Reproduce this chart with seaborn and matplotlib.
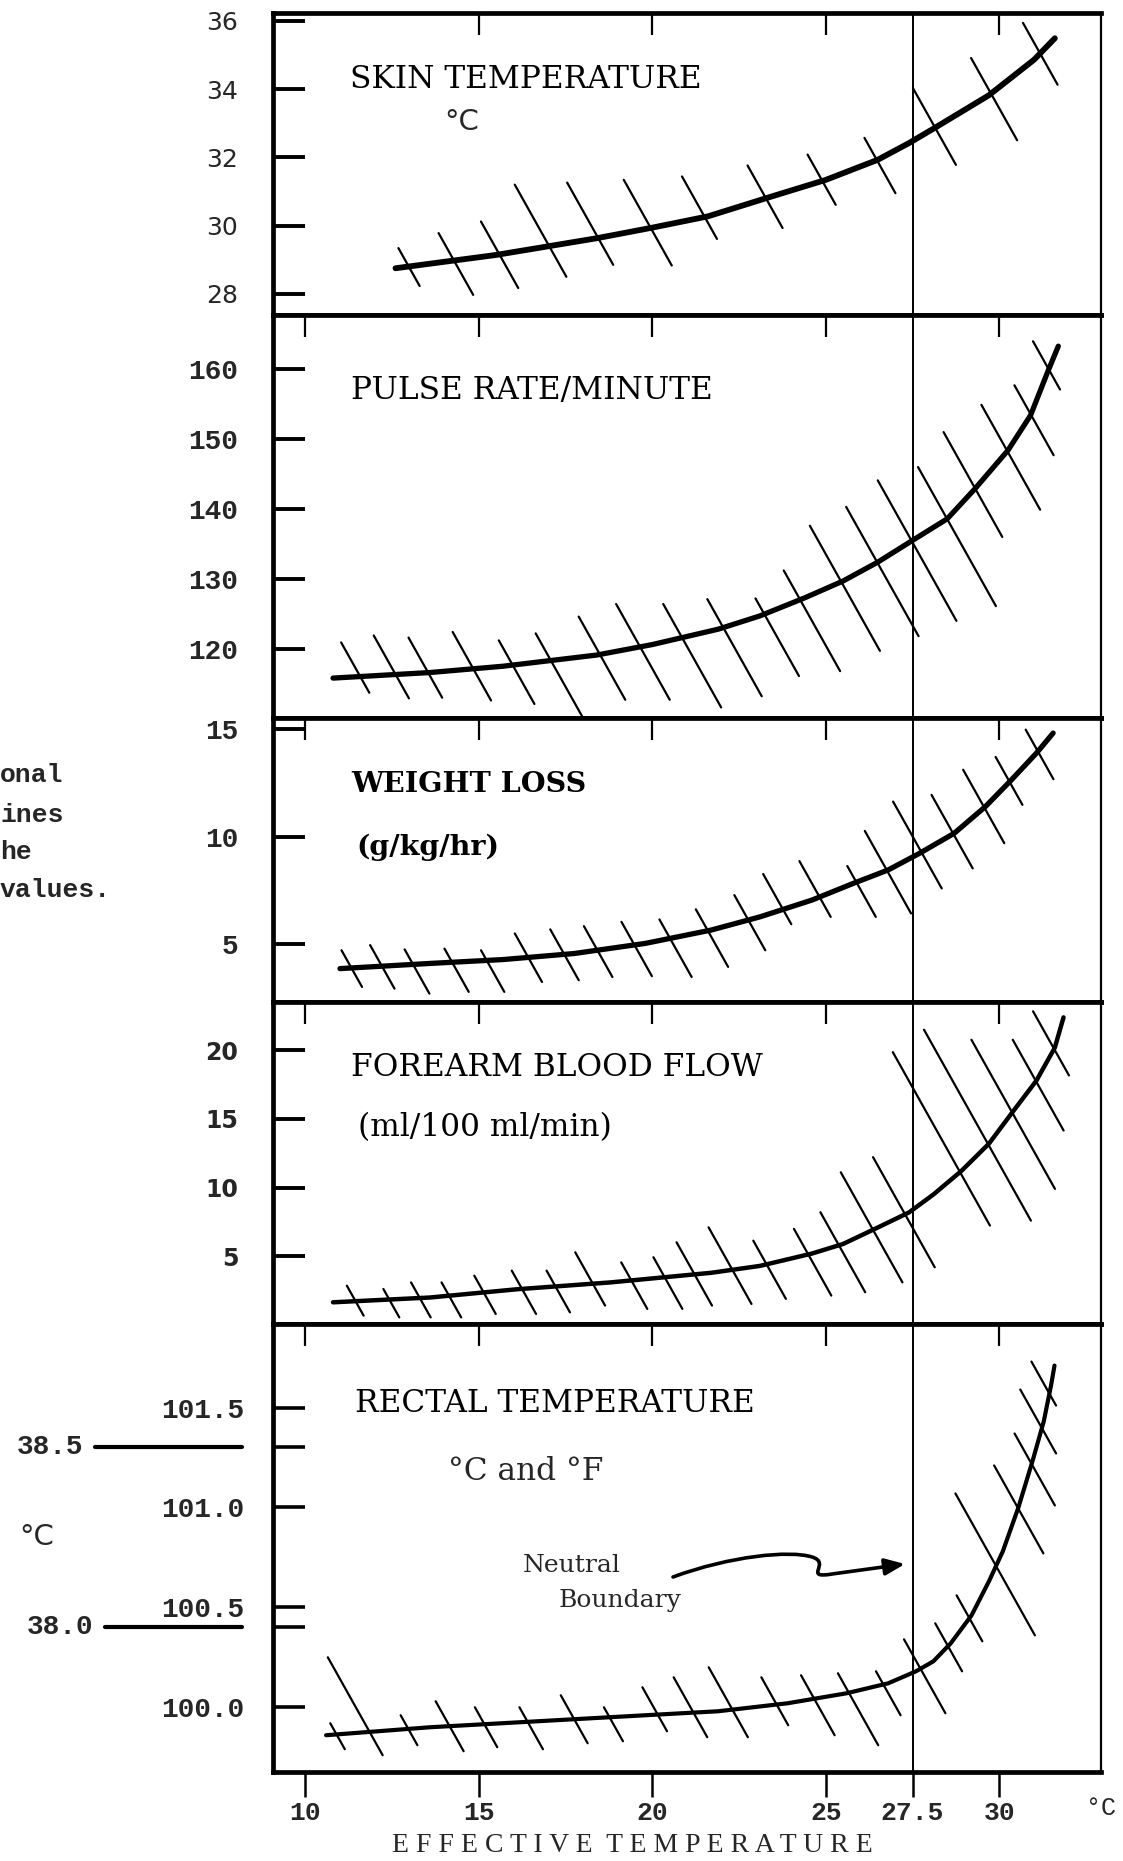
import numpy as np
import pandas as pd
import matplotlib
matplotlib.use("Agg")
import matplotlib.pyplot as plt
import matplotlib.transforms as mtransforms
from matplotlib.path import Path
from matplotlib.patches import FancyArrowPatch
import seaborn as sns

W, H = 1123, 1861

# ---------------- data ----------------
et_limits = (9.07, 32.93)
et_ticks = [10, 15, 20, 25, 27.5, 30]
et_tick_labels = ["10", "15", "20", "25", "27.5", "30"]
top_ticks = [10, 15, 20, 25, 30]
neutral_boundary = 27.5

# Skin temperature (deg C)
skin_et = [12.6, 15.5, 18.4, 20.0, 21.6, 23.3, 25.0, 26.5, 27.4, 28.2, 29.7, 31.0, 31.6]
skin_val = [28.75, 29.14, 29.63, 29.94, 30.27, 30.81, 31.34, 31.93, 32.42, 32.9, 33.82, 34.86, 35.49]
skin_rng_et = [12.99, 14.34, 15.6, 16.78, 18.21, 19.87, 21.36, 23.25, 24.88, 26.56, 28.13, 29.85, 31.18]
skin_rng_lo = [28.23, 27.97, 28.17, 28.5, 28.85, 28.83, 29.61, 29.93, 30.61, 30.95, 31.78, 32.5, 34.13]
skin_rng_hi = [29.34, 29.78, 30.12, 31.2, 31.26, 31.34, 31.44, 31.76, 32.08, 32.57, 34.03, 34.91, 35.94]
skin_ticks = [28, 30, 32, 34, 36]

# Pulse rate per minute
pulse_et = [10.8, 13.6, 15.7, 18.4, 20.0, 21.9, 23.1, 24.4, 25.5, 26.5, 27.4, 28.5, 29.3, 30.25, 30.9, 31.4, 31.7]
pulse_val = [115.8, 116.6, 117.5, 119.1, 120.6, 122.8, 124.7, 127.3, 129.7, 132.4, 135.2, 138.6, 142.9, 148.4, 153.4, 159.7, 163.3]
pulse_rng_et = [11.44, 12.48, 13.46, 14.8, 16.09, 17.31, 18.55, 19.73, 21.15, 22.37, 23.6, 24.6, 25.55, 26.63, 27.63, 28.78, 29.24, 30.33, 31.0, 31.36]
pulse_rng_lo = [113.7, 112.9, 113.0, 112.6, 112.1, 110.3, 112.7, 112.7, 111.6, 113.2, 116.1, 116.8, 119.7, 121.8, 124.0, 126.1, 136.0, 139.9, 147.7, 157.1]
pulse_rng_hi = [120.9, 121.9, 121.6, 122.4, 121.2, 122.2, 124.6, 126.4, 126.4, 127.1, 127.2, 131.2, 137.6, 140.3, 144.1, 146.0, 151.0, 154.9, 157.7, 164.0]
pulse_ticks = [120, 130, 140, 150, 160]

# Weight loss (g/kg/hr)
weight_et = [11.0, 13.6, 15.7, 17.75, 19.8, 21.7, 23.1, 24.6, 25.8, 26.8, 27.7, 28.7, 29.6, 30.35, 31.07, 31.55]
weight_val = [3.88, 4.12, 4.30, 4.58, 5.05, 5.67, 6.28, 7.06, 7.84, 8.46, 9.23, 10.16, 11.4, 12.64, 13.88, 14.81]
weight_rng_et = [11.34, 12.22, 13.22, 14.36, 15.4, 16.43, 17.47, 18.44, 19.55, 20.67, 21.72, 22.81, 23.6, 24.69, 26.03, 26.79, 27.64, 28.64, 29.55, 30.28, 31.16]
weight_rng_lo = [3.03, 2.95, 2.72, 2.80, 2.80, 3.26, 3.34, 3.49, 3.53, 3.49, 3.96, 4.73, 5.94, 6.28, 6.28, 6.44, 7.6, 8.53, 9.7, 11.48, 12.67]
weight_rng_hi = [4.73, 4.97, 4.77, 4.81, 4.73, 5.51, 5.70, 5.85, 6.05, 6.16, 6.63, 7.29, 8.27, 8.87, 8.64, 10.27, 11.63, 11.94, 13.11, 13.7, 14.97]
weight_ticks = [5, 10, 15]

# Forearm blood flow (ml/100 ml/min)
flow_et = [10.8, 13.6, 16.1, 18.8, 21.7, 23.1, 24.6, 25.5, 26.5, 27.4, 28.1, 28.9, 29.7, 30.35, 31.07, 31.6, 31.85]
flow_val = [1.65, 2.0, 2.6, 3.1, 3.8, 4.3, 5.2, 5.9, 7.1, 8.2, 9.5, 11.2, 13.2, 15.4, 17.8, 20.2, 22.4]
flow_rng_et = [11.44, 12.48, 13.33, 14.21, 15.18, 16.3, 17.29, 18.21, 19.48, 20.45, 21.21, 22.24, 23.38, 24.62, 25.49, 26.32, 27.25, 28.33, 29.37, 30.4, 31.12, 31.49]
flow_rng_lo = [0.68, 0.55, 0.55, 0.55, 0.8, 0.8, 0.92, 1.41, 1.17, 1.17, 1.41, 1.53, 1.9, 2.14, 2.38, 3.1, 4.2, 7.24, 7.6, 9.91, 14.16, 18.17]
flow_rng_hi = [2.86, 2.62, 3.1, 3.1, 3.59, 3.96, 3.96, 5.29, 4.56, 4.93, 6.02, 7.11, 6.14, 7.0, 8.21, 11.12, 12.22, 19.87, 21.5, 20.77, 20.77, 22.84]
flow_ticks = [5, 10, 15, 20]

# Rectal temperature (deg F, with deg C marks)
rectal_et = [10.6, 13.6, 16.7, 19.8, 21.9, 23.9, 25.6, 26.8, 27.6, 28.1, 28.6, 29.2, 29.7, 30.1, 30.55, 30.97, 31.28, 31.49, 31.59]
rectal_val = [99.86, 99.90, 99.93, 99.96, 99.98, 100.02, 100.07, 100.12, 100.18, 100.23, 100.32, 100.46, 100.63, 100.78, 101.0, 101.24, 101.43, 101.61, 101.71]
rectal_rng_et = [10.93, 11.44, 12.99, 14.16, 15.21, 16.51, 17.75, 18.88, 20.07, 21.1, 22.19, 23.53, 24.77, 25.93, 26.8, 27.85, 28.54, 29.14, 29.88, 30.56, 31.02, 31.12, 31.28]
rectal_rng_lo = [99.79, 99.76, 99.81, 99.78, 99.80, 99.79, 99.82, 99.83, 99.88, 99.85, 99.85, 99.91, 99.86, 99.81, 99.96, 99.97, 100.18, 100.33, 100.36, 100.77, 101.01, 101.27, 101.51]
rectal_rng_hi = [99.92, 100.25, 99.96, 100.03, 100.00, 100.00, 100.06, 100.00, 100.10, 100.15, 100.20, 100.15, 100.16, 100.17, 100.18, 100.34, 100.42, 100.56, 101.07, 101.21, 101.37, 101.59, 101.73]
rectal_ticks_f = [100.0, 100.5, 101.0, 101.5]
rectal_marks_c = [38.0, 38.5]

# ---------------- layout ----------------
panel_edges = [13, 315, 718, 1002, 1324, 1772]   # figure pixels from top
left_px, right_px = 273, 1101
SLANT = 0.56   # horizontal pixels per vertical pixel of each range stroke

panels = [
    dict(et=skin_et, val=skin_val, r_et=skin_rng_et, r_lo=skin_rng_lo, r_hi=skin_rng_hi,
         ylim=(27.38, 36.23), ticks=skin_ticks, lw=4.2, top=top_ticks[1:],
         tfont=("DejaVu Sans", "normal", 18)),
    dict(et=pulse_et, val=pulse_val, r_et=pulse_rng_et, r_lo=pulse_rng_lo, r_hi=pulse_rng_hi,
         ylim=(110.09, 167.76), ticks=pulse_ticks, lw=3.8, top=top_ticks,
         tfont=("Liberation Mono", "bold", 20)),
    dict(et=weight_et, val=weight_val, r_et=weight_rng_et, r_lo=weight_rng_lo, r_hi=weight_rng_hi,
         ylim=(2.33, 15.51), ticks=weight_ticks, lw=3.8, top=top_ticks,
         tfont=("Liberation Mono", "bold", 20)),
    dict(et=flow_et, val=flow_val, r_et=flow_rng_et, r_lo=flow_rng_lo, r_hi=flow_rng_hi,
         ylim=(0.07, 23.52), ticks=flow_ticks, lw=3.2, top=top_ticks,
         tfont=("DejaVu Sans", "bold", 17)),
    dict(et=rectal_et, val=rectal_val, r_et=rectal_rng_et, r_lo=rectal_rng_lo, r_hi=rectal_rng_hi,
         ylim=(99.676, 101.918), ticks=None, lw=3.0, top=top_ticks,
         tfont=("Liberation Mono", "bold", 20)),
]

sns.set_theme(style="white")
plt.rcParams["font.family"] = ["DejaVu Serif", "DejaVu Sans"]
plt.rcParams["axes.edgecolor"] = "black"
plt.rcParams["axes.linewidth"] = 3.0

fig = plt.figure(figsize=(W / 100, H / 100), dpi=100)
fig.patch.set_facecolor("white")


def fx(px):
    return px / W


def fy(py):
    return 1 - py / H


def range_strokes(ax, x_mid, lo, hi):
    """Slanted strokes spanning lo..hi, upper end to the left."""
    (x0, y0), (x1, y1) = ax.transData.transform([(0, 0), (1, 1)])
    k = SLANT * (y1 - y0) / (x1 - x0)
    rows = []
    for i, (xm, l, h) in enumerate(zip(x_mid, lo, hi)):
        half = k * (h - l) / 2
        rows.append((i, xm - half, h))
        rows.append((i, xm + half, l))
    return pd.DataFrame(rows, columns=["stroke", "et", "value"])


axes = []
for i, p in enumerate(panels):
    top, bot = panel_edges[i], panel_edges[i + 1]
    ax = fig.add_axes([fx(left_px), fy(bot), fx(right_px - left_px), (bot - top) / H])
    ax.set_facecolor("white")
    sns.lineplot(x=p["et"], y=p["val"], ax=ax, color="black", lw=p["lw"],
                 solid_capstyle="round", solid_joinstyle="round", estimator=None, sort=False)
    ax.set_xlim(*et_limits)
    ax.set_ylim(*p["ylim"])
    strokes = range_strokes(ax, p["r_et"], p["r_lo"], p["r_hi"])
    sns.lineplot(data=strokes, x="et", y="value", units="stroke", estimator=None,
                 sort=False, color="black", lw=1.6, ax=ax, legend=False)
    ax.set_xlim(*et_limits)
    ax.set_ylim(*p["ylim"])
    ax.set(xlabel="", ylabel="")
    ax.axvline(neutral_boundary, color="black", lw=1.4)

    for side in ["left", "top", "bottom"]:
        ax.spines[side].set_linewidth(3.4)
    ax.spines["right"].set_linewidth(1.6)
    for s in ax.spines.values():
        s.set_color("black")

    # ET ticks along the top of each panel
    sec = ax.secondary_xaxis("top")
    sec.set_xticks(p["top"])
    sec.tick_params(direction="in", length=16, width=1.6, labeltop=False, color="black")
    sec.spines["top"].set_visible(False)

    if p["ticks"] is not None:
        ax.set_yticks(p["ticks"], [str(t) for t in p["ticks"]])
    family, weight, size = p["tfont"]
    ax.tick_params(axis="y", direction="in", length=23, width=2.8, pad=25,
                   labelsize=size, left=True, color="black")
    for lab in ax.get_yticklabels():
        lab.set_fontfamily(family)
        lab.set_fontweight(weight)
    axes.append(ax)

for ax in axes[:-1]:
    ax.tick_params(axis="x", bottom=False, labelbottom=False)

# ---------------- bottom panel axes ----------------
ax5 = axes[-1]
marks_f = [c * 9 / 5 + 32 for c in rectal_marks_c]
ticks_f = sorted(rectal_ticks_f + marks_f)
ax5.set_yticks(ticks_f, [f"{t:.1f}" if t in rectal_ticks_f else "" for t in ticks_f])
ax5.tick_params(axis="y", direction="in", length=23, width=2.6, pad=21, labelsize=20)
for lab in ax5.get_yticklabels():
    lab.set_fontfamily("Liberation Mono")
    lab.set_fontweight("bold")
ax5.set_xticks(et_ticks, et_tick_labels)
ax5.tick_params(axis="x", bottom=True, direction="out", length=18, width=1.8, pad=3,
                labelsize=19, color="black")
for lab in ax5.get_xticklabels():
    lab.set_fontfamily("Liberation Mono")
    lab.set_fontweight("bold")

# Celsius scale drawn off the left edge
blend = mtransforms.blended_transform_factory(ax5.transAxes, ax5.transData)
for c, f, start in zip(rectal_marks_c, marks_f, [-0.203, -0.215]):
    ax5.plot([start, -0.037], [f, f], transform=blend, clip_on=False, color="black", lw=3.0,
             solid_capstyle="round")
    ax5.text(start - 0.014, f, f"{c:.1f}", transform=blend, ha="right", va="center",
             fontsize=20, fontfamily="Liberation Mono", fontweight="bold")
ax5.text(-0.286, np.mean(marks_f), "°C", transform=blend, ha="center", va="center",
         fontsize=21, fontfamily="DejaVu Sans")

# ---------------- labels ----------------
title_kw = dict(fontsize=22.5, fontfamily="DejaVu Serif", va="center", ha="left", color="black")
fig.text(fx(350), fy(80), "SKIN TEMPERATURE", **title_kw)
fig.text(fx(444), fy(122), "°C", fontsize=21, fontfamily="DejaVu Sans", va="center")
fig.text(fx(351), fy(390), "PULSE RATE/MINUTE", **title_kw)
fig.text(fx(351), fy(785), "WEIGHT LOSS", fontweight="bold",
         **{**title_kw, "fontsize": 20.5})
fig.text(fx(356), fy(847), "(g/kg/hr)", fontweight="bold", **{**title_kw, "fontsize": 20.5})
fig.text(fx(351), fy(1067), "FOREARM BLOOD FLOW", **title_kw)
fig.text(fx(358), fy(1128), "(ml/100 ml/min)", **title_kw)
fig.text(fx(355), fy(1404), "RECTAL TEMPERATURE", **title_kw)
fig.text(fx(448), fy(1472), "°C and °F", fontsize=22.5, fontfamily="DejaVu Serif", va="center")
fig.text(fx(523), fy(1565), "Neutral", fontsize=18, fontfamily="DejaVu Serif", va="center")
fig.text(fx(559), fy(1601), "Boundary", fontsize=18, fontfamily="DejaVu Serif", va="center")

# hooked pointer towards the boundary line
pts = [(673, 1577), (730, 1556), (790, 1550), (812, 1557),
       (832, 1563), (802, 1579), (832, 1574), (905, 1564)]
codes = [Path.MOVETO, Path.CURVE4, Path.CURVE4, Path.CURVE4,
         Path.CURVE4, Path.CURVE4, Path.CURVE4, Path.LINETO]
arrow_path = Path([(fx(a), fy(b)) for a, b in pts], codes)
arrow_path = fig.transFigure.transform_path(arrow_path)
fig.patches.append(FancyArrowPatch(path=arrow_path, transform=None,
                                   arrowstyle="-|>,head_length=12,head_width=5",
                                   lw=2.6, color="black"))

fig.text(fx(632), fy(1846), "E F F E C T I V E   T E M P E R A T U R E".replace("   ", "  "),
         fontsize=20, fontfamily="Liberation Serif", ha="center", va="center")
fig.text(fx(1086), fy(1808), "°C", fontsize=18, fontfamily="Liberation Mono", va="center")

# note fragment at the left margin
note_kw = dict(fontsize=19, fontfamily="Liberation Mono", fontweight="bold", va="center", ha="left")
for txt, y in zip(["onal", "ines", "he", "values."], [775, 815, 852, 890]):
    fig.text(fx(0), fy(y), txt, **note_kw)

fig.savefig("out.png", dpi=100, facecolor="white")
